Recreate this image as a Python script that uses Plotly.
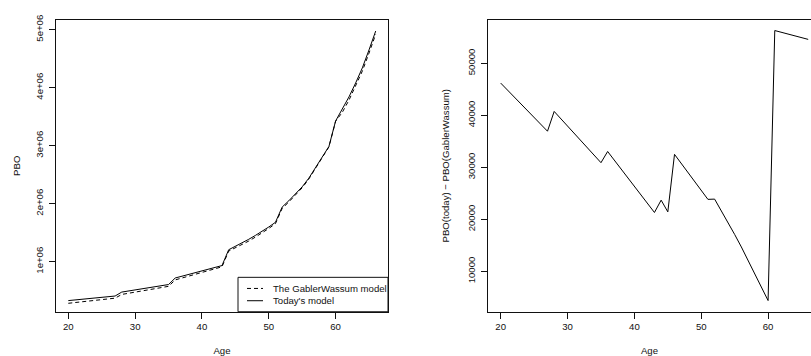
import plotly.graph_objects as go

# Age of the plan member
ages = [20, 21, 22, 23, 24, 25, 26, 27, 28, 29, 30, 31, 32, 33, 34, 35,
        36, 37, 38, 39, 40, 41, 42, 43, 44, 45, 46, 47, 48, 49, 50, 51,
        52, 53, 54, 55, 56, 57, 58, 59, 60, 61, 62, 63, 64, 65, 66]

# Projected benefit obligation under today's model
pbo_today = [328000, 339000, 350500, 362000, 373500, 385000, 396000, 407000,
             475000, 493500, 512000, 530500, 549000, 568000, 586500, 605000,
             718000, 748500, 779000, 809500, 840000, 871000, 901500, 932000,
             1205000, 1262000, 1322000, 1385000, 1452000, 1522000, 1597000, 1678000,
             1940000, 2050000, 2170000, 2290000, 2440000, 2615000, 2795000, 2985000,
             3425000, 3630000, 3840000, 4080000, 4340000, 4650000, 4975000]

# PBO(today) - PBO(GablerWassum)
pbo_diff = [46200, 44900, 43550, 42250, 40900, 39600, 38250, 36950,
            40750, 39350, 37950, 36550, 35100, 33700, 32300, 30900,
            33050, 31400, 29700, 28050, 26350, 24700, 23000, 21330,
            23700, 21450,
            32500, 30750, 29000, 27300, 25550, 23850,
            23900, 21700, 19400, 17100, 14700, 12200, 9700, 7100, 4400,
            56300, 55950, 55600, 55280, 54950, 54600]

pbo_gw = [t - d for t, d in zip(pbo_today, pbo_diff)]

series_names = ["The GablerWassum model", "Today's model"]
series_dash = ["4px,3px", "solid"]

left_yticks = [1e6, 2e6, 3e6, 4e6, 5e6]
left_yticklabels = ["1e+06", "2e+06", "3e+06", "4e+06", "5e+06"]
right_yticks = [10000, 20000, 30000, 40000, 50000]
right_yticklabels = ["10000", "20000", "30000", "40000", "50000"]
xticks = [20, 30, 40, 50, 60]

FONT = "Liberation Sans, Arial, Helvetica, sans-serif"
FS = 9.6
INK = "#111111"
W, H = 811, 356


def px(x):
    return x / W


def py(y):
    return 1 - y / H


fig = go.Figure()

for vals, name, dash in zip([pbo_gw, pbo_today], series_names, series_dash):
    fig.add_trace(go.Scatter(
        x=ages, y=vals, mode="lines", name=name, showlegend=False,
        line=dict(color="black", width=1, dash=dash),
        xaxis="x", yaxis="y"))

fig.add_trace(go.Scatter(
    x=ages, y=pbo_diff, mode="lines", showlegend=False,
    line=dict(color="black", width=1),
    xaxis="x2", yaxis="y2"))

axis_common = dict(
    showgrid=False, zeroline=False, showline=True, linecolor=INK, linewidth=1,
    ticks="outside", ticklen=6, tickwidth=1, tickcolor=INK,
    tickfont=dict(family=FONT, size=FS, color=INK),
)
title_font = dict(family=FONT, size=FS, color=INK)

y_dom = [py(312), py(15)]

# Legend box in the lower-right corner of the left panel
shapes = [dict(type="rect", xref="paper", yref="paper",
               x0=px(238), x1=px(388), y0=py(312), y1=py(277),
               line=dict(color=INK, width=1), fillcolor="white", layer="above")]
annotations = []
for i, (name, dash) in enumerate(zip(series_names, series_dash)):
    yrow = 288.3 + i * 12.5
    shapes.append(dict(type="line", xref="paper", yref="paper",
                       x0=px(247), x1=px(263), y0=py(yrow), y1=py(yrow),
                       line=dict(color="black", width=1, dash=dash), layer="above"))
    annotations.append(dict(text=name, xref="paper", yref="paper",
                            x=px(271), y=py(yrow), xanchor="left", yanchor="middle",
                            showarrow=False, font=title_font))

fig.update_layout(
    width=W, height=H,
    margin=dict(l=0, r=0, t=0, b=0),
    paper_bgcolor="white", plot_bgcolor="white",
    font=dict(family=FONT, size=FS, color=INK),
    showlegend=False,
    shapes=shapes,
    annotations=annotations,
    xaxis=dict(domain=[px(56), px(388)], range=[18.16, 67.84],
               tickvals=xticks, mirror=True, anchor="y",
               title=dict(text="Age", standoff=17, font=title_font),
               **axis_common),
    yaxis=dict(domain=y_dom, range=[136000, 5170000],
               tickvals=left_yticks, ticktext=left_yticklabels,
               tickangle=-90, mirror=True, anchor="x", ticklabelstandoff=2,
               title=dict(text="PBO", standoff=11, font=title_font),
               **axis_common),
    xaxis2=dict(domain=[px(488), 1.0], range=[18.1, 66.42],
                tickvals=xticks, mirror=True, anchor="y2",
                title=dict(text="Age", standoff=17, font=title_font),
                **axis_common),
    yaxis2=dict(domain=y_dom, range=[2250, 58374],
                tickvals=right_yticks, ticktext=right_yticklabels,
                tickangle=-90, anchor="x2", ticklabelstandoff=2,
                title=dict(text="PBO(today) \u2212 PBO(GablerWassum)", standoff=14,
                           font=title_font),
                **axis_common),
)

fig.write_html("out.html")
